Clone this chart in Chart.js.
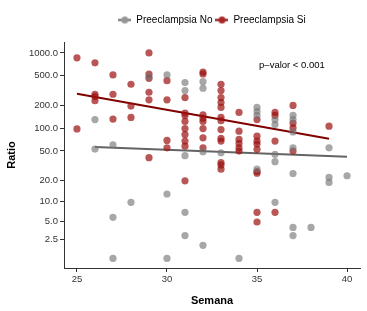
<!DOCTYPE html>
<html><head><meta charset="utf-8">
<script src="https://cdn.jsdelivr.net/npm/chart.js@4"></script>
<style>html,body{margin:0;padding:0;background:#fff}#wrap{width:367px;height:311px}</style>
</head><body><div id="wrap"><canvas id="c" width="367" height="311"></canvas></div>
<script>
// ---- data ----
const seriesNames = ['Preeclampsia No', 'Preeclampsia Si'];
const xTicks = [25, 30, 35, 40];
const yTicks = [2.5, 5, 10, 20, 50, 100, 200, 500, 1000];
const yTickLabels = ['2.5', '5.0', '10.0', '20.0', '50.0', '100.0', '200.0', '500.0', '1000.0'];

const noWeek = [26,26,27,28,27,27,29,30,31,31,32,32,31,32,33,30,31,31,32,30,34,35,35,35,36,36,37,37,37,37,39,36,36,35,37,39,39,40,36,37,37,38];
const noRatio = [131,53,60.5,9.7,5.8,0.95,485,511,405,318,417,341,43.2,48.8,47.3,12.8,6.9,2.9,1.9,0.95,0.95,190,168,149,131,112.6,149,131,89.9,55.1,55.1,45,35.8,28.3,24.7,21.8,18.6,23,9.7,4.0,2.9,4.0];

const siWeek = [25,26,27,28,26,26,26,27,28,27,28,25,29,29,29,30,29,29,30,31,32,32,33,33,33,33,33,33,34,31,31,31,31,31,31,31,32,32,32,32,32,32,33,33,33,33,34,34,34,34,30,30,34,29,31,33,33,33,35,35,35,35,35,36,36,36,37,37,37,37,39,35,35,35,35,36];
const siRatio = [860,740,511,385,284,265,233,284,198,133,140,98.5,1000,526,461,430,302,240,240,257,559,526,385,318,257,221,190,140,163,160,149,124,99.7,83,67.7,58,152,137,124,99.7,74.9,55.1,127,96.7,73.5,67.7,91.9,71.3,63.1,55.1,69.2,55.1,49.8,40.6,19.6,34.8,32.4,28.3,131,78.9,67.7,61.8,52.5,163,149,67.7,202,118,101.5,49.8,107,26.3,25,6.9,4.9,6.9];

// fitted lines (end points)
const noFitWeek = [26, 40];
const noFitRatio = [56.3, 41.8];
const siFitWeek = [25, 39];
const siFitRatio = [288, 72.6];

const pText = 'p–valor < 0.001';
const pAt = {x: 36.94, y: 690};

// ---- helpers ----
const t = v => Math.log10(1 + v);   // log1p axis transform
const pts = (xs, ys) => xs.map((x, i) => ({x: x, y: t(ys[i])}));

const greyPt = 'rgba(118,118,118,0.64)';
const redPt = 'rgba(155,15,15,0.70)';
const greyLine = 'rgb(100,100,100)';
const redLine = 'rgb(128,0,0)';

function marker(lineColor, dotColor) {
  const c = document.createElement('canvas');
  c.width = 13; c.height = 9;
  const g = c.getContext('2d');
  g.strokeStyle = lineColor; g.lineWidth = 2;
  g.beginPath(); g.moveTo(0, 4.5); g.lineTo(13, 4.5); g.stroke();
  g.fillStyle = dotColor;
  g.beginPath(); g.arc(6.5, 4.5, 3.5, 0, Math.PI * 2); g.fill();
  return c;
}
const mkNo = marker(greyLine, 'rgb(150,150,150)');
const mkSi = marker(redLine, 'rgb(170,40,40)');

// extra room under the legend row
const legendSpace = {
  id: 'legendSpace',
  beforeLayout(chart) {
    const lg = chart.legend;
    if (lg && !lg._extra) {
      const f = lg.fit;
      lg.fit = function () { f.call(this); this.height += 7; };
      lg._extra = true;
    }
  }
};

const pLabel = {
  id: 'pLabel',
  afterDatasetsDraw(chart) {
    const {ctx, scales} = chart;
    ctx.save();
    ctx.font = '9.5px "Liberation Sans", Arial, sans-serif';
    ctx.fillStyle = '#000';
    ctx.textAlign = 'center';
    ctx.textBaseline = 'middle';
    ctx.fillText(pText, scales.x.getPixelForValue(pAt.x), scales.y.getPixelForValue(t(pAt.y)));
    ctx.restore();
  }
};

const tickFont = {family: '"Liberation Sans", Arial, sans-serif', size: 9.5};
const titleFont = {family: '"Liberation Sans", Arial, sans-serif', size: 11, weight: 'bold'};

new Chart(document.getElementById('c'), {
  type: 'scatter',
  data: {
    datasets: [
      {label: seriesNames[0], data: pts(noWeek, noRatio), backgroundColor: greyPt, borderWidth: 0, pointRadius: 3.6},
      {label: seriesNames[1], data: pts(siWeek, siRatio), backgroundColor: redPt, borderWidth: 0, pointRadius: 3.6},
      {label: 'fitNo', type: 'line', data: pts(noFitWeek, noFitRatio), borderColor: greyLine, borderWidth: 2, pointRadius: 0, fill: false},
      {label: 'fitSi', type: 'line', data: pts(siFitWeek, siFitRatio), borderColor: redLine, borderWidth: 2, pointRadius: 0, fill: false}
    ]
  },
  options: {
    responsive: false,
    animation: false,
    layout: {padding: {top: 12, right: 7, left: 0, bottom: 0}},
    plugins: {
      tooltip: {enabled: false},
      legend: {
        position: 'top',
        fullSize: false,
        labels: {
          usePointStyle: true,
          pointStyleWidth: 13,
          padding: 3,
          color: '#111',
          font: {family: '"Liberation Sans", Arial, sans-serif', size: 10},
          generateLabels: () => [
            {text: seriesNames[0], pointStyle: mkNo, fillStyle: greyPt, strokeStyle: greyLine, lineWidth: 0, hidden: false, datasetIndex: 0},
            {text: seriesNames[1], pointStyle: mkSi, fillStyle: redPt, strokeStyle: redLine, lineWidth: 0, hidden: false, datasetIndex: 1}
          ]
        }
      }
    },
    scales: {
      x: {
        type: 'linear',
        min: 24.28, max: 40.72,
        afterBuildTicks: s => { s.ticks = xTicks.map(v => ({value: v})); },
        afterFit: s => { s.height = 43; },
        ticks: {color: '#333', font: tickFont, padding: 2, maxRotation: 0},
        grid: {display: true, drawOnChartArea: false, drawTicks: true, tickLength: 4, color: '#333'},
        border: {display: true, color: '#333', width: 1},
        title: {display: true, text: 'Semana', color: '#000', font: titleFont, padding: {top: 4, bottom: 3}}
      },
      y: {
        type: 'linear',
        min: 0.164, max: 3.144,
        afterBuildTicks: s => { s.ticks = yTicks.map(v => ({value: t(v)})); },
        afterFit: s => { s.width = 64; },
        ticks: {color: '#333', font: tickFont, padding: 2, callback: (v, i) => yTickLabels[i]},
        grid: {display: true, drawOnChartArea: false, drawTicks: true, tickLength: 4, color: '#333'},
        border: {display: true, color: '#333', width: 1},
        title: {display: true, text: 'Ratio', color: '#000', font: titleFont, padding: {top: 5, bottom: 0}}
      }
    }
  },
  plugins: [legendSpace, pLabel]
});
</script>
</body></html>
